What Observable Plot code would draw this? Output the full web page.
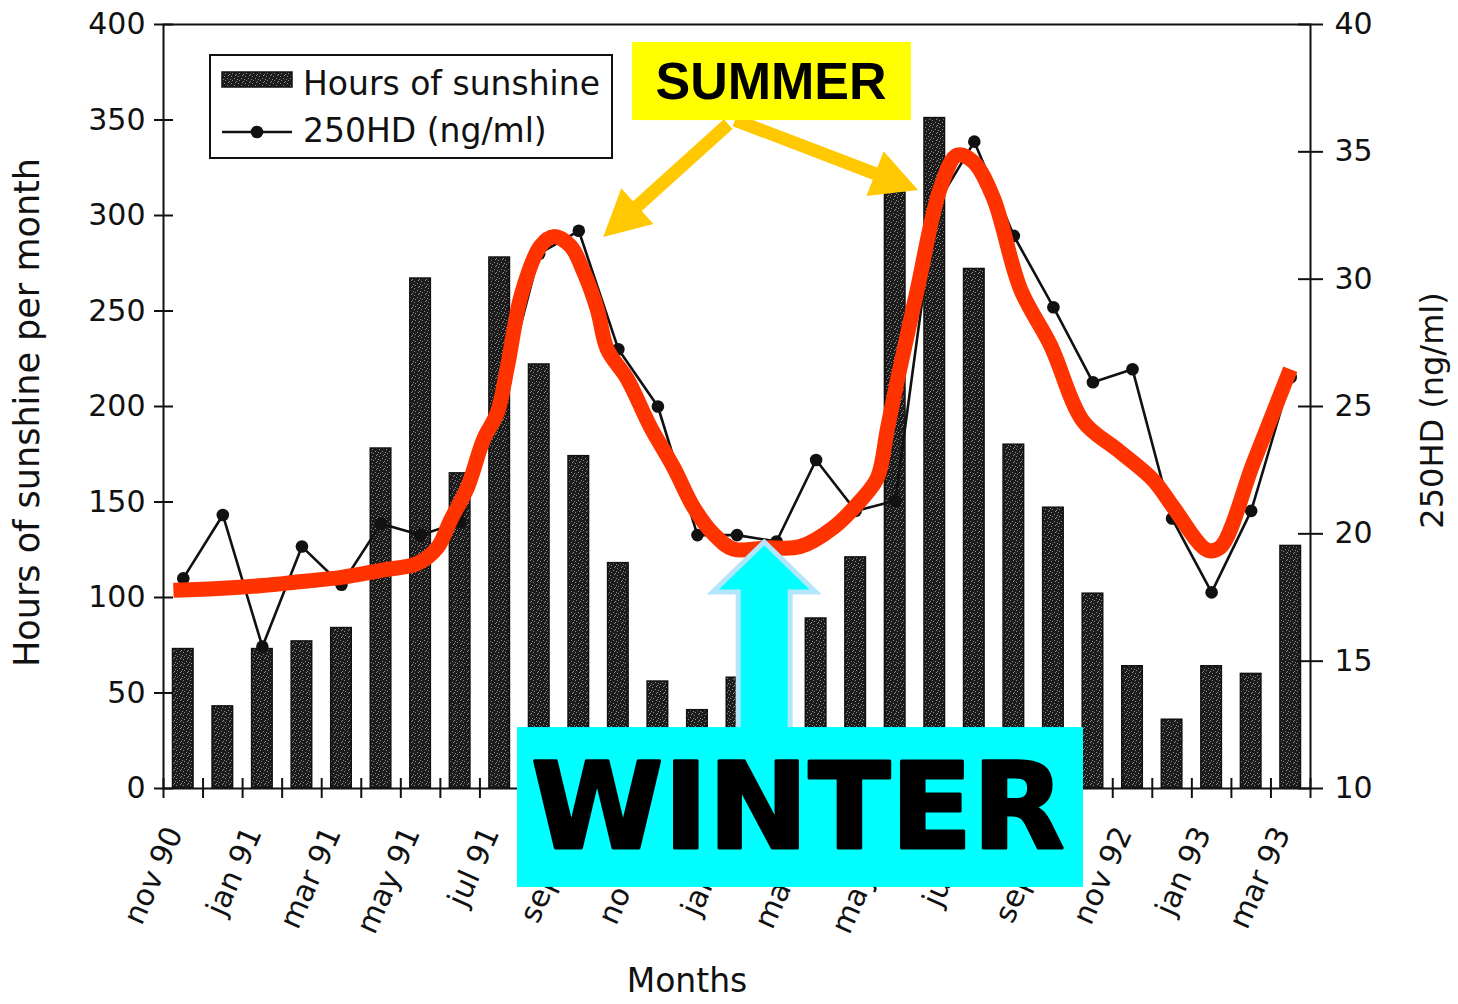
<!DOCTYPE html>
<html>
<head>
<meta charset="utf-8">
<script src="https://cdn.jsdelivr.net/npm/d3@7"></script>
<script src="https://cdn.jsdelivr.net/npm/@observablehq/plot@0.6"></script>
<style>
  html, body { margin: 0; padding: 0; background: #fff; }
  #wrap { position: relative; width: 1458px; height: 1004px; overflow: hidden; font-family: "DejaVu Sans", sans-serif; }
  #chart svg { display: block; }
  #legend { position: absolute; left: 209px; top: 54px; }
</style>
</head>
<body>
<div id="wrap">
  <div id="chart"></div>
  <svg id="legend" width="404" height="105"></svg>
</div>
<script>
// ---------------- data ----------------
const months = ["nov 90","dec 90","jan 91","feb 91","mar 91","apr 91","may 91","jun 91","jul 91","aug 91","sep 91","oct 91",
  "nov 91","dec 91","jan 92","feb 92","mar 92","apr 92","may 92","jun 92","jul 92","aug 92","sep 92","oct 92",
  "nov 92","dec 92","jan 93","feb 93","mar 93"];
const sunshineHours = [73,43,73,77,84,178,267,165,278,222,174,118,56,41,58,70,89,121,312,351,272,180,147,102,64,36,64,60,127];
const ohdValues = [18.25,20.74,15.57,19.5,18.0,20.4,19.95,20.46,25.0,31.0,31.9,27.25,25.0,19.95,19.95,19.7,22.9,20.9,21.3,32.8,35.4,31.7,28.9,25.95,26.46,20.6,17.7,20.9,26.15];
// hand-drawn red trend (months since nov 90, ng/ml)
const redCurveMonths = [-0.25,1.0,2.0,3.0,4.0,5.0,5.92,6.43,6.76,7.19,7.59,7.94,8.2,8.55,9.03,9.36,9.79,10.12,10.47,10.72,11.23,11.81,12.4,12.9,13.4,13.91,14.77,15.6,16.44,17.12,17.55,17.8,18.06,18.56,19.14,19.57,19.98,20.48,21.17,21.93,22.76,23.62,24.53,25.03,25.89,26.22,27.06,27.99];
const redCurveValues = [17.78,17.86,17.97,18.13,18.29,18.57,18.84,19.47,20.54,21.84,23.7,24.76,26.6,29.4,31.3,31.67,31.3,30.3,28.8,27.25,26.07,24.2,22.6,21.05,20.0,19.4,19.45,19.5,20.25,21.3,22.2,24.1,26.07,29.6,33.57,34.87,34.6,33.2,29.6,27.4,24.4,23.3,22.1,21.05,19.36,19.47,22.8,26.46];
const leftTicks = [0,50,100,150,200,250,300,350,400];
const rightTicks = [10,15,20,25,30,35,40];
const seriesNames = ["Hours of sunshine", "250HD (ng/ml)"];
const axisTitles = {left: "Hours of sunshine per month", right: "250HD (ng/ml)", bottom: "Months"};
// annotations (x in month slots, y in hours)
const summerLabel = "SUMMER";
const summerBoxX = [11.86, 18.91];
const summerBoxY = [349.7, 390.6];
const summerTextPos = [15.36, 369.9];
const summerArrowFrom = [[14.29, 347.6], [14.46, 349.7]];
const summerArrowTo = [[11.13, 288.5], [19.09, 313.1]];
const winterLabel = "WINTER";
const winterBoxX = [8.95, 23.26];
const winterBoxY = [-51.8, 31.9];
const winterTextPos = [16.04, -11.3];
const winterArrowFrom = [15.2, 24];
const winterArrowTo = [15.2, 128.8];

// ---------------- helpers ----------------
const toHours = v => (v - 10) * 400 / 30;
const fromHours = h => h * 30 / 400 + 10;
const bars = months.map((m, i) => ({i, m, h: sunshineHours[i]}));
const ohd = months.map((m, i) => ({i, m, v: ohdValues[i]}));
const red = redCurveMonths.map((t, k) => ({t, v: redCurveValues[k]}));
const xLabels = months.map((m, i) => ({i, m})).filter(d => d.i % 2 === 0);

function arrowPath(x0, y0, x1, y1, shaftW, headW, headL) {
  const dx = x1 - x0, dy = y1 - y0, L = Math.hypot(dx, dy);
  const ux = dx / L, uy = dy / L, px = -uy, py = ux;
  const bx = x1 - ux * headL, by = y1 - uy * headL;
  const pts = [
    [x0 + px * shaftW / 2, y0 + py * shaftW / 2],
    [bx + px * shaftW / 2, by + py * shaftW / 2],
    [bx + px * headW / 2, by + py * headW / 2],
    [x1, y1],
    [bx - px * headW / 2, by - py * headW / 2],
    [bx - px * shaftW / 2, by - py * shaftW / 2],
    [x0 - px * shaftW / 2, y0 - py * shaftW / 2]
  ];
  return "M" + pts.map(p => p.join(",")).join("L") + "Z";
}

function speckleDefs(sel, id) {
  const p = sel.append("pattern").attr("id", id).attr("width", 7).attr("height", 7).attr("patternUnits", "userSpaceOnUse");
  p.append("rect").attr("width", 7).attr("height", 7).attr("fill", "#1c1c1c");
  [[1,1],[4,3],[2,5],[6,6],[5,0],[0,4]].forEach(([x, y]) =>
    p.append("rect").attr("x", x).attr("y", y).attr("width", 1).attr("height", 1).attr("fill", "#8c8c8c"));
}

const chart = Plot.plot({
  width: 1458,
  height: 1004,
  marginLeft: 163,
  marginRight: 148,
  marginTop: 24,
  marginBottom: 216,
  x: {type: "linear", domain: [0, 29], axis: null},
  y: {domain: [0, 400], axis: null},
  style: {fontFamily: "DejaVu Sans, sans-serif", fontSize: "30px", color: "#111", background: "white", overflow: "visible"},
  marks: [
    () => { const d = d3.create("svg:defs"); speckleDefs(d, "speckle"); return d.node(); },
    Plot.rectY(bars, {x1: d => d.i, x2: d => d.i + 1, y: "h", insetLeft: 9.5, insetRight: 9.5,
      fill: "url(#speckle)", stroke: "#111", strokeWidth: 1.5}),
    // axes
    Plot.frame({stroke: "#111", strokeWidth: 2}),
    Plot.axisY({ticks: leftTicks, anchor: "left", tickSize: 9, tickPadding: 9, label: null, strokeWidth: 2, fontSize: 30}),
    Plot.axisY({ticks: leftTicks, anchor: "left", tickSize: 10, dx: 10, tickFormat: () => "", label: null, strokeWidth: 2}),
    Plot.axisY({ticks: rightTicks.map(toHours), anchor: "right", tickSize: 12, tickPadding: 12, label: null,
      tickFormat: h => String(Math.round(fromHours(h))), strokeWidth: 2, fontSize: 30}),
    Plot.axisY({ticks: rightTicks.map(toHours), anchor: "right", tickSize: 13, dx: -13, tickFormat: () => "", label: null, strokeWidth: 2}),
    Plot.axisX({ticks: d3.range(0, 30), anchor: "bottom", tickSize: 10, tickFormat: () => "", label: null, strokeWidth: 2}),
    Plot.axisX({ticks: d3.range(0, 30), anchor: "bottom", tickSize: 10, dy: -10, tickFormat: () => "", label: null, strokeWidth: 2}),
    Plot.text(xLabels, {x: d => d.i + 0.5, frameAnchor: "bottom", dy: 44, text: "m", rotate: -66,
      textAnchor: "end", fontSize: 30}),
    Plot.text([axisTitles.left], {frameAnchor: "left", dx: -136, dy: 6, rotate: -90, textAnchor: "middle", fontSize: 35}),
    Plot.text([axisTitles.right], {frameAnchor: "right", dx: 122, dy: 4, rotate: -90, textAnchor: "middle", fontSize: 32}),
    Plot.text([axisTitles.bottom], {frameAnchor: "bottom", dx: -50, dy: 203, textAnchor: "middle", fontSize: 33}),
    // series
    Plot.line(ohd, {x: d => d.i + 0.5, y: d => toHours(d.v), stroke: "#111", strokeWidth: 2.6}),
    Plot.dot(ohd, {x: d => d.i + 0.5, y: d => toHours(d.v), r: 6.3, fill: "#111", stroke: "none"}),
    Plot.line(red, {x: d => d.t + 0.5, y: d => toHours(d.v), stroke: "#ff3300", strokeWidth: 15,
      curve: "catmull-rom", strokeLinejoin: "round", strokeLinecap: "butt"}),
    // annotations
    (index, scales) => {
      const g = d3.create("svg:g");
      summerArrowFrom.forEach((f, k) => {
        const t = summerArrowTo[k];
        g.append("path")
          .attr("d", arrowPath(scales.x(f[0]), scales.y(f[1]), scales.x(t[0]), scales.y(t[1]), 13, 48, 46))
          .attr("fill", "#ffc800");
      });
      g.append("path")
        .attr("d", arrowPath(scales.x(winterArrowFrom[0]), scales.y(winterArrowFrom[1]),
                             scales.x(winterArrowTo[0]), scales.y(winterArrowTo[1]), 52, 103, 50))
        .attr("fill", "#00ffff").attr("stroke", "#b3e6fb").attr("stroke-width", 5).attr("stroke-linejoin", "miter");
      return g.node();
    },
    Plot.rect([0], {x1: summerBoxX[0], x2: summerBoxX[1], y1: summerBoxY[0], y2: summerBoxY[1], fill: "#ffff00"}),
    Plot.text([summerLabel], {x: summerTextPos[0], y: summerTextPos[1], fontSize: 52, fontWeight: "bold",
      fontFamily: "Liberation Sans, Arial, sans-serif", fill: "#000"}),
    Plot.rect([0], {x1: winterBoxX[0], x2: winterBoxX[1], y1: winterBoxY[0], y2: winterBoxY[1], fill: "#00ffff"}),
    Plot.text([winterLabel], {x: winterTextPos[0], y: winterTextPos[1], fontSize: 120, fontWeight: "bold",
      fontFamily: "DejaVu Sans, sans-serif", fill: "#000", stroke: "#000", strokeWidth: 3})
  ]
});
document.getElementById("chart").appendChild(chart);

// ---------------- legend ----------------
const lg = d3.select("#legend");
speckleDefs(lg.append("defs"), "speckleL");
lg.append("rect").attr("x", 1).attr("y", 1).attr("width", 402).attr("height", 103)
  .attr("fill", "white").attr("stroke", "#111").attr("stroke-width", 2);
lg.append("rect").attr("x", 13).attr("y", 18).attr("width", 70).attr("height", 15)
  .attr("fill", "url(#speckleL)").attr("stroke", "#111").attr("stroke-width", 1.5);
lg.append("text").attr("x", 94).attr("y", 41).attr("font-size", 33).attr("fill", "#111")
  .attr("font-family", "DejaVu Sans, sans-serif").text(seriesNames[0]);
lg.append("line").attr("x1", 13).attr("x2", 83).attr("y1", 78).attr("y2", 78)
  .attr("stroke", "#111").attr("stroke-width", 2.6);
lg.append("circle").attr("cx", 48).attr("cy", 78).attr("r", 6.3).attr("fill", "#111");
lg.append("text").attr("x", 94).attr("y", 88).attr("font-size", 33).attr("fill", "#111")
  .attr("font-family", "DejaVu Sans, sans-serif").text(seriesNames[1]);
</script>
</body>
</html>
